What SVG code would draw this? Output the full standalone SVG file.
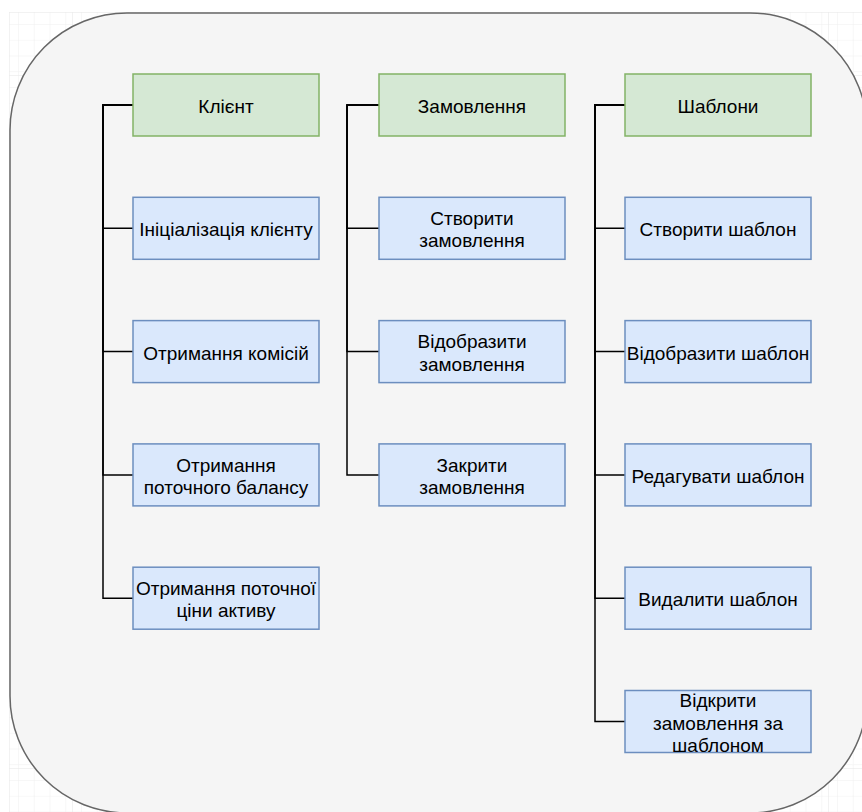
<svg xmlns="http://www.w3.org/2000/svg" width="862" height="812" viewBox="0 0 862 812">
  <defs>
    <pattern id="gridMinor" x="9" y="12" width="15.75" height="15.75" patternUnits="userSpaceOnUse">
      <path d="M 15.75 0 L 0 0 0 15.75" fill="none" stroke="#f0f0f0" stroke-width="1"/>
    </pattern>
    <pattern id="gridMajor" x="9" y="12" width="63" height="63" patternUnits="userSpaceOnUse">
      <rect width="63" height="63" fill="url(#gridMinor)"/>
      <path d="M 63 0 L 0 0 0 63" fill="none" stroke="#e6e6e6" stroke-width="1"/>
    </pattern>
    <style>
      .panel { fill: #f5f5f5; stroke: #666666; stroke-width: 1.5; }
      .head { fill: #d5e8d4; stroke: #82b366; stroke-width: 1.5; }
      .item { fill: #dae8fc; stroke: #6c8ebf; stroke-width: 1.5; }
      .lbl { font-family: "Liberation Sans", Arial, Helvetica, sans-serif; font-size: 19px; fill: #000000; text-anchor: middle; }
      .edge { fill: none; stroke: #000000; stroke-width: 1.5; }
    </style>
  </defs>

  <!-- page with grid -->
  <rect x="0" y="0" width="862" height="812" fill="#ffffff"/>
  <rect x="9" y="12" width="853" height="800" fill="url(#gridMajor)"/>

  <!-- container panel -->
  <rect id="panel" class="panel" x="10" y="13" width="857" height="800" rx="117" ry="117"/>

  <!-- connectors -->
  <g id="connectors">
    <path class="edge" d="M133 105 H103 V228.3 H133"/>
    <path class="edge" d="M133 105 H103 V351.6 H133"/>
    <path class="edge" d="M133 105 H103 V474.9 H133"/>
    <path class="edge" d="M133 105 H103 V598.2 H133"/>

    <path class="edge" d="M379 105 H347 V228.3 H379"/>
    <path class="edge" d="M379 105 H347 V351.6 H379"/>
    <path class="edge" d="M379 105 H347 V474.9 H379"/>

    <path class="edge" d="M625 105 H595 V228.3 H625"/>
    <path class="edge" d="M625 105 H595 V351.6 H625"/>
    <path class="edge" d="M625 105 H595 V474.9 H625"/>
    <path class="edge" d="M625 105 H595 V598.2 H625"/>
    <path class="edge" d="M625 105 H595 V721.5 H625"/>
  </g>

  <!-- column: client -->
  <g id="client">
    <rect class="head" x="133" y="74" width="186" height="62"/>
    <text class="lbl" x="226" y="113">Клієнт</text>
  </g>
  <g id="client-init">
    <rect class="item" x="133" y="197.3" width="186" height="62"/>
    <text class="lbl" x="226" y="236.3">Ініціалізація клієнту</text>
  </g>
  <g id="client-fees">
    <rect class="item" x="133" y="320.6" width="186" height="62"/>
    <text class="lbl" x="226" y="359.6">Отримання комісій</text>
  </g>
  <g id="client-balance">
    <rect class="item" x="133" y="443.9" width="186" height="62"/>
    <text class="lbl" x="226" y="471.6">Отримання</text>
    <text class="lbl" x="226" y="494">поточного балансу</text>
  </g>
  <g id="client-price">
    <rect class="item" x="133" y="567.2" width="186" height="62"/>
    <text class="lbl" x="226" y="594.9">Отримання поточної</text>
    <text class="lbl" x="226" y="617.3">ціни активу</text>
  </g>

  <!-- column: orders -->
  <g id="orders">
    <rect class="head" x="379" y="74" width="186" height="62"/>
    <text class="lbl" x="472" y="113">Замовлення</text>
  </g>
  <g id="order-create">
    <rect class="item" x="379" y="197.3" width="186" height="62"/>
    <text class="lbl" x="472" y="225">Створити</text>
    <text class="lbl" x="472" y="247.4">замовлення</text>
  </g>
  <g id="order-show">
    <rect class="item" x="379" y="320.6" width="186" height="62"/>
    <text class="lbl" x="472" y="348.3">Відобразити</text>
    <text class="lbl" x="472" y="370.7">замовлення</text>
  </g>
  <g id="order-close">
    <rect class="item" x="379" y="443.9" width="186" height="62"/>
    <text class="lbl" x="472" y="471.6">Закрити</text>
    <text class="lbl" x="472" y="494">замовлення</text>
  </g>

  <!-- column: templates -->
  <g id="templates">
    <rect class="head" x="625" y="74" width="186" height="62"/>
    <text class="lbl" x="718" y="113">Шаблони</text>
  </g>
  <g id="template-create">
    <rect class="item" x="625" y="197.3" width="186" height="62"/>
    <text class="lbl" x="718" y="236.3">Створити шаблон</text>
  </g>
  <g id="template-show">
    <rect class="item" x="625" y="320.6" width="186" height="62"/>
    <text class="lbl" x="718" y="359.6">Відобразити шаблон</text>
  </g>
  <g id="template-edit">
    <rect class="item" x="625" y="443.9" width="186" height="62"/>
    <text class="lbl" x="718" y="482.9">Редагувати шаблон</text>
  </g>
  <g id="template-delete">
    <rect class="item" x="625" y="567.2" width="186" height="62"/>
    <text class="lbl" x="718" y="606.2">Видалити шаблон</text>
  </g>
  <g id="template-open-order">
    <rect class="item" x="625" y="690.5" width="186" height="62"/>
    <text class="lbl" x="718" y="707.1">Відкрити</text>
    <text class="lbl" x="718" y="729.5">замовлення за</text>
    <text class="lbl" x="718" y="751.9">шаблоном</text>
  </g>
</svg>
